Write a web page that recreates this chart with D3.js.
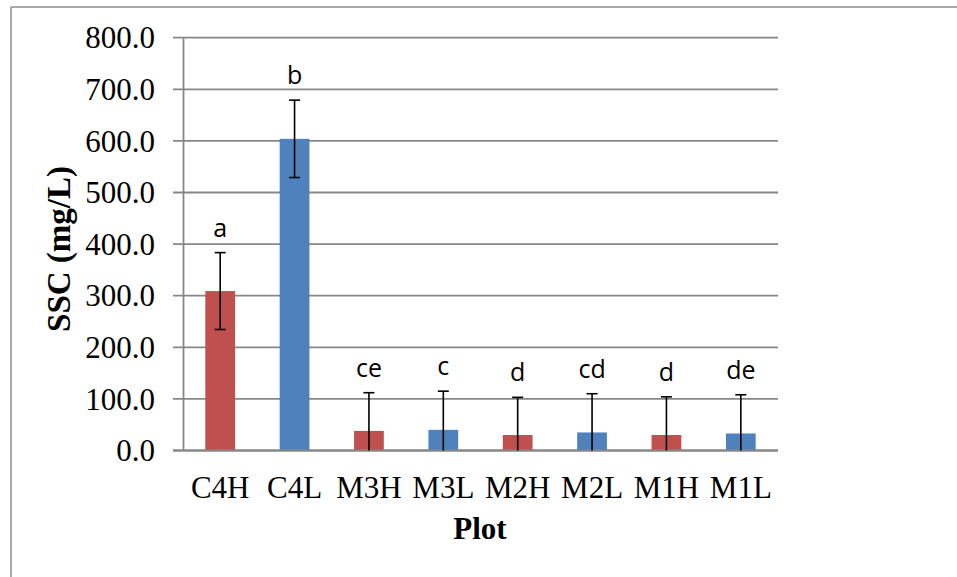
<!DOCTYPE html>
<html>
<head>
<meta charset="utf-8">
<script src="https://cdn.jsdelivr.net/npm/d3@7"></script>
<style>
  html, body { margin: 0; padding: 0; background: #ffffff; }
  svg { display: block; }
</style>
</head>
<body>
<svg id="chart" width="957" height="577"></svg>
<script>
// Suspended sediment concentration by plot
const plots = ["C4H", "C4L", "M3H", "M3L", "M2H", "M2L", "M1H", "M1L"];
const ssc = [309, 604, 38, 40, 30, 35, 30, 33];
const sscError = [74.5, 75, 74, 75, 73, 75, 74, 75];
const groupLetters = ["a", "b", "ce", "c", "d", "cd", "d", "de"];
const barColors = ["#C0504D", "#4F81BD", "#C0504D", "#4F81BD", "#C0504D", "#4F81BD", "#C0504D", "#4F81BD"];
const yTicks = [0, 100, 200, 300, 400, 500, 600, 700, 800];

const svg = d3.select("#chart");
const plotLeft = 183, plotRight = 778, plotTop = 37.7, plotBottom = 450.5;
const serif = "'Liberation Serif', 'Times New Roman', serif";

// outer chart frame (open to the right and bottom)
svg.append("line").attr("x1", 11).attr("x2", 11).attr("y1", 7).attr("y2", 577)
  .attr("stroke", "#8c8c8c").attr("stroke-width", 1.5);
svg.append("line").attr("x1", 11).attr("x2", 957).attr("y1", 7).attr("y2", 7)
  .attr("stroke", "#8c8c8c").attr("stroke-width", 1.5);

const x = d3.scaleBand().domain(plots).range([plotLeft, plotRight]).paddingInner(0.6).paddingOuter(0.3);
const y = d3.scaleLinear().domain([0, 800]).range([plotBottom, plotTop]);

// gridlines
svg.append("g")
  .selectAll("line").data(yTicks).join("line")
  .attr("x1", plotLeft - 10).attr("x2", plotRight)
  .attr("y1", d => y(d)).attr("y2", d => y(d))
  .attr("stroke", "#878787").attr("stroke-width", 1.8);

// y axis
const yAxis = svg.append("g")
  .attr("transform", `translate(${plotLeft},0)`)
  .call(d3.axisLeft(y).tickValues(yTicks).tickFormat(d3.format(".1f")).tickSize(0).tickPadding(28));
yAxis.select(".domain").attr("stroke", "#878787").attr("stroke-width", 1.8);
yAxis.selectAll("text")
  .attr("font-family", serif)
  .attr("font-size", 31).attr("fill", "#000").attr("dy", "0.33em");

// bars
svg.append("g").selectAll("rect").data(plots).join("rect")
  .attr("x", d => x(d))
  .attr("width", x.bandwidth())
  .attr("y", (d, i) => y(ssc[i]))
  .attr("height", (d, i) => y(0) - y(ssc[i]))
  .attr("fill", (d, i) => barColors[i]);

// baseline redrawn over bars
svg.append("line").attr("x1", plotLeft - 10).attr("x2", plotRight)
  .attr("y1", y(0)).attr("y2", y(0))
  .attr("stroke", "#878787").attr("stroke-width", 1.8);

// error bars
const eb = svg.append("g").attr("stroke", "#000").attr("stroke-width", 1.6);
plots.forEach((p, i) => {
  const cx = x(p) + x.bandwidth() / 2;
  const hi = ssc[i] + sscError[i];
  const lo = Math.max(0, ssc[i] - sscError[i]);
  eb.append("line").attr("x1", cx).attr("x2", cx).attr("y1", y(hi)).attr("y2", y(lo));
  eb.append("line").attr("x1", cx - 5.5).attr("x2", cx + 5.5).attr("y1", y(hi)).attr("y2", y(hi));
  if (lo > 0) {
    eb.append("line").attr("x1", cx - 5.5).attr("x2", cx + 5.5).attr("y1", y(lo)).attr("y2", y(lo));
  }
});

// significance letters
svg.append("g").selectAll("text").data(plots).join("text")
  .attr("x", d => x(d) + x.bandwidth() / 2)
  .attr("y", (d, i) => y(ssc[i] + sscError[i]) - 16)
  .attr("text-anchor", "middle")
  .attr("font-family", "'Open Sans', 'Noto Sans', sans-serif")
  .attr("font-size", 25)
  .attr("fill", "#000")
  .text((d, i) => groupLetters[i]);

// category labels
svg.append("g").selectAll("text").data(plots).join("text")
  .attr("x", d => x(d) + x.bandwidth() / 2)
  .attr("y", 498)
  .attr("text-anchor", "middle")
  .attr("font-family", serif)
  .attr("font-size", 31)
  .attr("fill", "#000")
  .text(d => d);

// axis titles
svg.append("text")
  .attr("x", 480).attr("y", 539)
  .attr("text-anchor", "middle")
  .attr("font-family", serif)
  .attr("font-size", 31).attr("font-weight", "bold")
  .text("Plot");

svg.append("text")
  .attr("transform", "translate(70,249) rotate(-90)")
  .attr("text-anchor", "middle")
  .attr("font-family", serif)
  .attr("font-size", 33).attr("font-weight", "bold")
  .text("SSC (mg/L)");
</script>
</body>
</html>
